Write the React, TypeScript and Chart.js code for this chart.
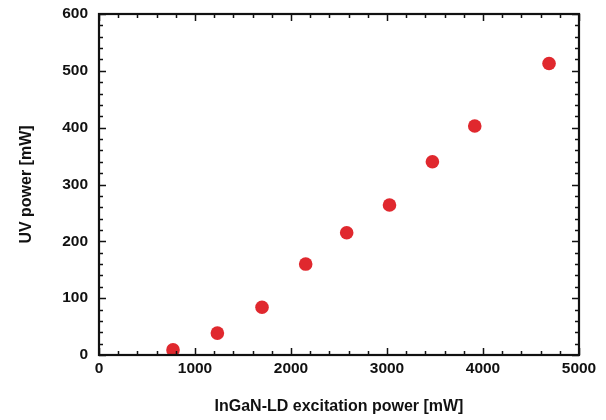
import React, { useEffect, useRef } from "react";
import { Chart, registerables } from "chart.js";

Chart.register(...registerables);

const excitationPower = [771, 1233, 1698, 2153, 2580, 3026, 3473, 3914, 4688];
const uvPower = [9, 38.5, 84, 160, 215, 264, 340, 403, 513];
const xTitle = "InGaN-LD excitation power [mW]";
const yTitle = "UV power [mW]";
const xMax = 5000;
const yMax = 600;

const framePlugin = {
  id: "frame",
  afterDatasetsDraw(chart: any) {
    const { ctx, chartArea: a, scales } = chart;
    const xs = scales.x;
    const ys = scales.y;
    ctx.save();
    ctx.strokeStyle = "#111";
    ctx.lineWidth = 1.5;
    ctx.beginPath();
    xs.ticks.forEach((t: any) => {
      const px = Math.round(xs.getPixelForValue(t.value)) + 0.5;
      const len = t.value % 1000 === 0 ? 7 : 4;
      ctx.moveTo(px, a.bottom);
      ctx.lineTo(px, a.bottom - len);
      ctx.moveTo(px, a.top);
      ctx.lineTo(px, a.top + len);
    });
    ys.ticks.forEach((t: any) => {
      const py = Math.round(ys.getPixelForValue(t.value)) + 0.5;
      const len = t.value % 100 === 0 ? 7 : 4;
      ctx.moveTo(a.left, py);
      ctx.lineTo(a.left + len, py);
      ctx.moveTo(a.right, py);
      ctx.lineTo(a.right - len, py);
    });
    ctx.stroke();
    ctx.lineWidth = 2.2;
    ctx.strokeRect(a.left, a.top, a.right - a.left, a.bottom - a.top);
    ctx.restore();
  },
};

export default function App() {
  const ref = useRef<HTMLCanvasElement | null>(null);
  useEffect(() => {
    if (!ref.current) return;
    const font = "'Liberation Sans', Arial, Helvetica, sans-serif";
    const chart = new Chart(ref.current, {
      type: "scatter",
      data: {
        datasets: [
          {
            data: excitationPower.map((x, i) => ({ x, y: uvPower[i] })),
            backgroundColor: "#e0282e",
            borderColor: "#e0282e",
            pointRadius: 6.8,
            pointHoverRadius: 6.8,
            borderWidth: 0,
          },
        ],
      },
      options: {
        animation: false,
        responsive: false,
        layout: { padding: { top: 14, right: 27, left: 0, bottom: 0 } },
        plugins: { legend: { display: false }, tooltip: { enabled: false } },
        scales: {
          x: {
            type: "linear",
            min: 0,
            max: xMax,
            afterFit(s: any) {
              s.height = 65;
              s.paddingLeft = 0;
              s.paddingRight = 0;
            },
            ticks: {
              stepSize: 200,
              autoSkip: false,
              maxRotation: 0,
              padding: 4,
              color: "#111",
              font: { family: font, size: 15.5, weight: "bold" },
              callback: (v: any) => (Number(v) % 1000 === 0 ? String(v) : ""),
            },
            grid: { display: false, drawTicks: false },
            border: { display: false },
            title: {
              display: true,
              text: xTitle,
              color: "#111",
              font: { family: font, size: 16, weight: "bold" },
              padding: { top: 0, bottom: 4 },
            },
          },
          y: {
            type: "linear",
            min: 0,
            max: yMax,
            afterFit(s: any) {
              s.width = 99;
              s.paddingTop = 0;
              s.paddingBottom = 0;
            },
            ticks: {
              stepSize: 20,
              autoSkip: false,
              padding: 11,
              color: "#111",
              font: { family: font, size: 15.5, weight: "bold" },
              callback: (v: any) => (Number(v) % 100 === 0 ? String(v) : ""),
            },
            grid: { display: false, drawTicks: false },
            border: { display: false },
            title: {
              display: true,
              text: yTitle,
              color: "#111",
              font: { family: font, size: 16, weight: "bold" },
              padding: { top: 17, bottom: 0 },
            },
          },
        },
      },
      plugins: [framePlugin],
    } as any);
    return () => chart.destroy();
  }, []);
  return (
    <div style={{ position: "fixed", left: 0, top: 0, width: 606, height: 420, background: "#fff" }}>
      <canvas ref={ref} width={606} height={420} style={{ width: 606, height: 420 }} />
    </div>
  );
}
